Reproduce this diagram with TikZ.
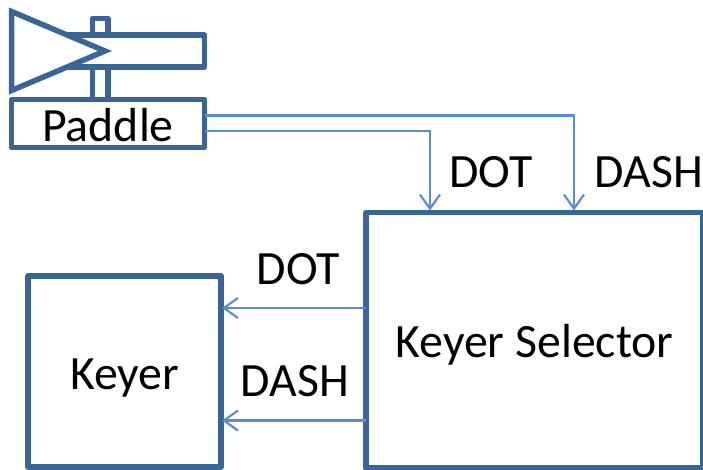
\documentclass[tikz,border=0pt]{standalone}
\usepackage{fontspec}
\setmainfont{Carlito}
\usetikzlibrary{arrows.meta}
\definecolor{boxblue}{HTML}{3B6497}
\definecolor{wireblue}{HTML}{5B8CCB}
\tikzset{
  x=1pt,y=-1pt,
  heavy/.style={draw=boxblue,line width=5.5pt,line join=round,miter limit=10},
  boxnode/.style={heavy,inner sep=0pt,outer sep=0pt,anchor=north west},
  wire/.style={draw=wireblue,line width=2.2pt,-{Straight Barb[length=14pt,width=20pt,line width=2.2pt]}},
  lbl/.style={inner sep=0pt,font=\fontsize{47.8}{48}\selectfont,text=black},
}
\begin{document}
\begin{tikzpicture}
\useasboundingbox (0,0) rectangle (703,470);
% paddle lever
\draw[heavy] (92.5,99) -- (92.5,18.5) -- (108,18.5) -- (108,99);
\draw[heavy,fill=white] (60,35) -- (204.5,35) -- (204.5,67) -- (60,67);
\draw[heavy,line join=miter,fill=white] (11.5,11.5) -- (105,51) -- (11.5,90.5) -- cycle;
% boxes
\node[boxnode,minimum width=193pt,minimum height=48pt] (paddle) at (11.5,99.5) {};
\node[lbl] (paddlelabel) at (108,125) {Paddle};
\node[boxnode,minimum width=337pt,minimum height=255.5pt] (selector) at (366,212.5) {};
\node[lbl] (selectorlabel) at (534.5,345) {Keyer Selector};
\node[boxnode,minimum width=193pt,minimum height=191pt] (keyer) at (28,276) {};
\node[lbl] (keyerlabel) at (124.5,378.5) {Keyer};
% wires
\coordinate (d1) at (205,115.5);
\coordinate (d2) at (205,131);
\coordinate (s1) at (574,210.5);
\coordinate (s2) at (430,210.5);
\draw[wire] (d1) -- (d1 -| s1) -- (s1);
\draw[wire] (d2) -- (d2 -| s2) -- (s2);
\coordinate (k1) at (222,308);
\coordinate (k2) at (222,420.5);
\draw[wire] (k1 -| selector.west) -- (k1);
\draw[wire] (k2 -| selector.west) -- (k2);
% labels
\node[lbl] (dot1) at (491,172) {DOT};
\node[lbl] (dash1) at (649,172) {DASH};
\node[lbl] (dot2) at (298.5,269) {DOT};
\node[lbl] (dash2) at (295,381) {DASH};
\end{tikzpicture}
\end{document}
